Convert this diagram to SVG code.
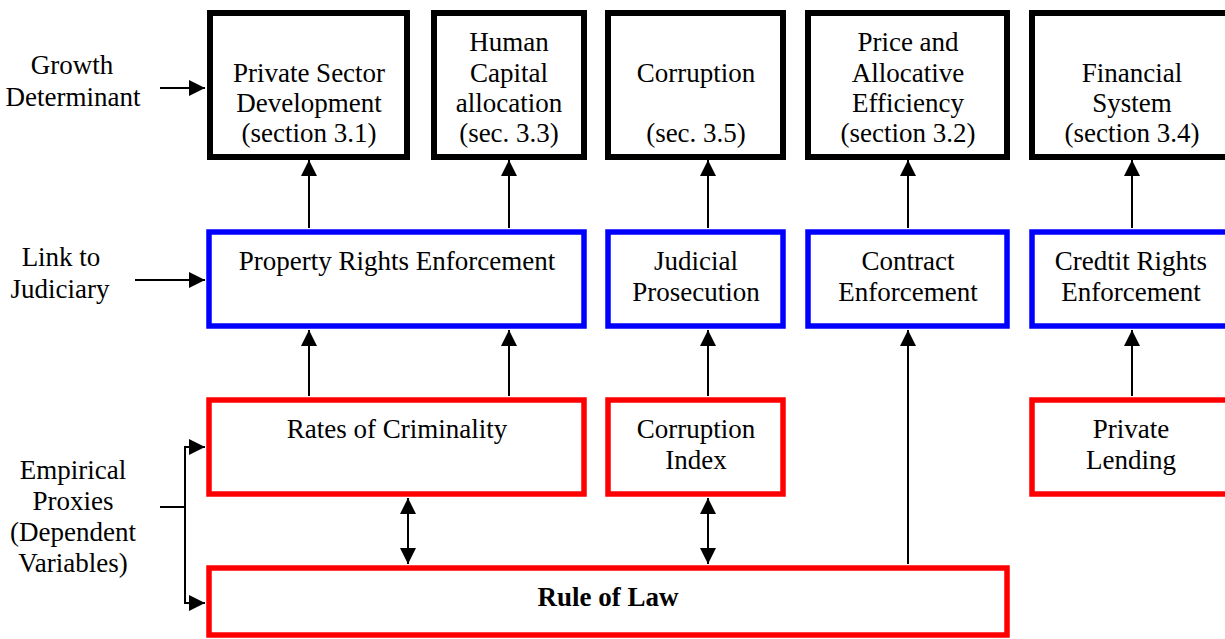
<svg xmlns="http://www.w3.org/2000/svg" width="1225" height="639" viewBox="0 0 1225 639">
<style>
text{font-size:27px;fill:#000;text-anchor:middle}
.b{font-weight:bold}
.blk{fill:#fff;stroke:#000;stroke-width:6}
.blu{fill:#fff;stroke:#0000ff;stroke-width:5.5}
.red{fill:#fff;stroke:#ff0000;stroke-width:5.5}
.c{stroke:#000;stroke-width:2;fill:none}
</style>
<defs>
<marker id="ah2" viewBox="0 0 10 10" refX="10" refY="5" markerWidth="16" markerHeight="16" markerUnits="userSpaceOnUse" orient="auto-start-reverse">
<path d="M0,0 L10,5 L0,10 z" fill="#000"/>
</marker>
</defs>
<rect width="1225" height="639" fill="#fff"/>
<g font-family="Liberation Serif, Times New Roman, serif">
<g id="labels">
<text x="72" y="74">Growth</text>
<text x="73" y="106">Determinant</text>
<text x="61" y="266">Link to</text>
<text x="60" y="298">Judiciary</text>
<text x="73" y="479">Empirical</text>
<text x="73" y="510">Proxies</text>
<text x="73" y="541">(Dependent</text>
<text x="73" y="572">Variables)</text>
</g>
<g id="connectors">
<line class="c" x1="160" y1="88" x2="205" y2="88" marker-end="url(#ah2)"/>
<line class="c" x1="135" y1="280" x2="205" y2="280" marker-end="url(#ah2)"/>
<polyline class="c" points="160,507 185,507"/>
<polyline class="c" points="205,447 185,447 185,603 205,603" marker-start="url(#ah2)" marker-end="url(#ah2)"/>
<line class="c" x1="309" y1="228" x2="309" y2="160" marker-end="url(#ah2)"/>
<line class="c" x1="509" y1="228" x2="509" y2="160" marker-end="url(#ah2)"/>
<line class="c" x1="708" y1="228" x2="708" y2="160" marker-end="url(#ah2)"/>
<line class="c" x1="908" y1="228" x2="908" y2="160" marker-end="url(#ah2)"/>
<line class="c" x1="1132" y1="228" x2="1132" y2="160" marker-end="url(#ah2)"/>
<line class="c" x1="309" y1="396" x2="309" y2="330" marker-end="url(#ah2)"/>
<line class="c" x1="509" y1="396" x2="509" y2="330" marker-end="url(#ah2)"/>
<line class="c" x1="708" y1="396" x2="708" y2="330" marker-end="url(#ah2)"/>
<line class="c" x1="1132" y1="396" x2="1132" y2="330" marker-end="url(#ah2)"/>
<line class="c" x1="908" y1="564" x2="908" y2="330" marker-end="url(#ah2)"/>
<line class="c" x1="408" y1="498" x2="408" y2="564" marker-start="url(#ah2)" marker-end="url(#ah2)"/>
<line class="c" x1="708" y1="498" x2="708" y2="564" marker-start="url(#ah2)" marker-end="url(#ah2)"/>
</g>
<g id="n-psd"><rect class="blk" x="210" y="13" width="197" height="144"/>
<text x="309" y="82">Private Sector</text><text x="309" y="112">Development</text><text x="309" y="142">(section 3.1)</text></g>
<g id="n-hca"><rect class="blk" x="434" y="13" width="150" height="144"/>
<text x="509" y="51">Human</text><text x="509" y="82">Capital</text><text x="509" y="112">allocation</text><text x="509" y="142">(sec. 3.3)</text></g>
<g id="n-cor"><rect class="blk" x="608" y="13" width="175" height="144"/>
<text x="696" y="82">Corruption</text><text x="696" y="142">(sec. 3.5)</text></g>
<g id="n-pae"><rect class="blk" x="808" y="13" width="199" height="144"/>
<text x="908" y="51">Price and</text><text x="908" y="82">Allocative</text><text x="908" y="112">Efficiency</text><text x="908" y="142">(section 3.2)</text></g>
<g id="n-fin"><rect class="blk" x="1032" y="13" width="210" height="144"/>
<text x="1132" y="82">Financial</text><text x="1132" y="112">System</text><text x="1132" y="142">(section 3.4)</text></g>
<g id="n-pre"><rect class="blu" x="209" y="232" width="375" height="94"/>
<text x="397" y="270">Property Rights Enforcement</text></g>
<g id="n-jp"><rect class="blu" x="608" y="232" width="175" height="94"/>
<text x="696" y="270">Judicial</text><text x="696" y="301">Prosecution</text></g>
<g id="n-ce"><rect class="blu" x="808" y="232" width="199" height="94"/>
<text x="908" y="270">Contract</text><text x="908" y="301">Enforcement</text></g>
<g id="n-cre"><rect class="blu" x="1032" y="232" width="210" height="94"/>
<text x="1131" y="270">Credtit Rights</text><text x="1131" y="301">Enforcement</text></g>
<g id="n-roc"><rect class="red" x="209" y="400" width="375" height="94"/>
<text x="397" y="438">Rates of Criminality</text></g>
<g id="n-ci"><rect class="red" x="608" y="400" width="175" height="94"/>
<text x="696" y="438">Corruption</text><text x="696" y="469">Index</text></g>
<g id="n-pl"><rect class="red" x="1032" y="400" width="210" height="94"/>
<text x="1131" y="438">Private</text><text x="1131" y="469">Lending</text></g>
<g id="n-rol"><rect class="red" x="209" y="568" width="798" height="67"/>
<text class="b" x="608" y="606" font-size="25">Rule of Law</text></g>
</g>
</svg>
